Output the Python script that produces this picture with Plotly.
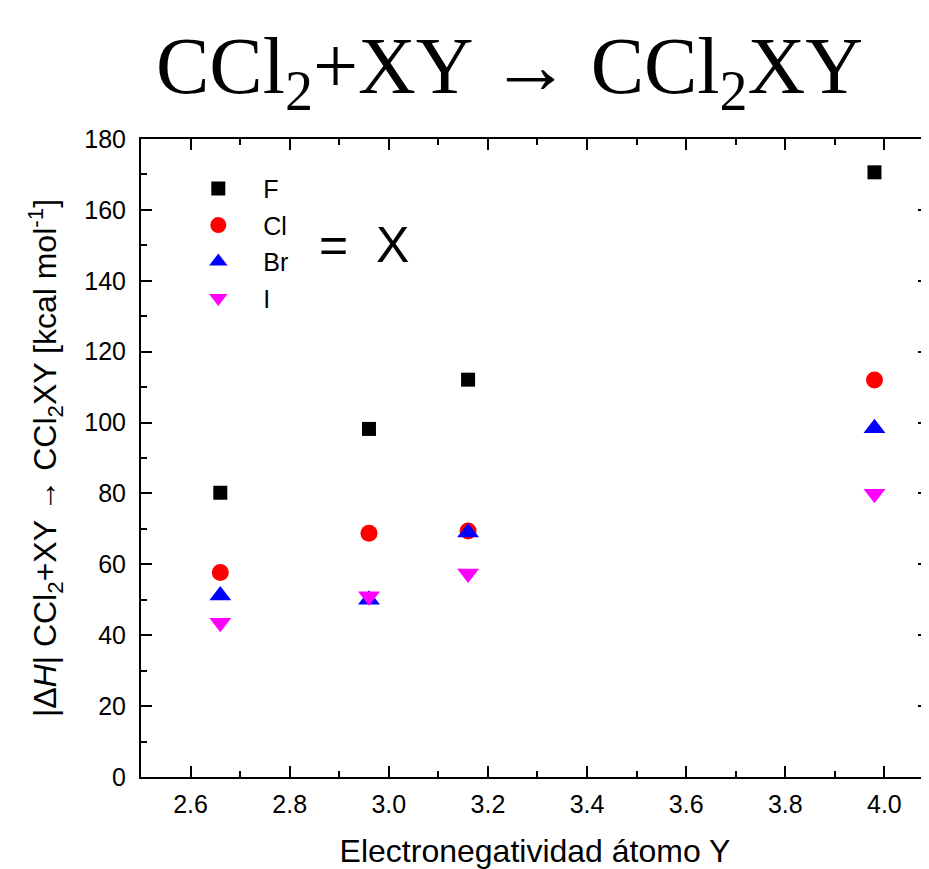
import plotly.graph_objects as go

x_en = [2.66, 2.96, 3.16, 3.98]
series_names = ["F", "Cl", "Br", "I"]
F_vals = [80.2, 98.2, 112.1, 170.6]
Cl_vals = [57.7, 68.8, 69.4, 112.0]
Br_vals = [51.2, 50.0, 69.0, 98.4]
I_vals = [43.5, 51.0, 57.4, 79.9]

styles = {
    "F": dict(symbol="square", color="black", size=14),
    "Cl": dict(symbol="circle", color="red", size=17),
    "Br": dict(symbol="triangle-up", color="blue", size=19),
    "I": dict(symbol="triangle-down", color="#ff00ff", size=19),
}
vals = {"F": F_vals, "Cl": Cl_vals, "Br": Br_vals, "I": I_vals}

fig = go.Figure()
for i, name in enumerate(series_names):
    st = styles[name]
    fig.add_trace(go.Scatter(
        x=x_en, y=vals[name], mode="markers", name=name,
        legendgroup=name,
        marker=dict(symbol=st["symbol"], color=st["color"], size=st["size"], line=dict(width=0)),
    ))

axis_common = dict(
    showline=True, linecolor="black", linewidth=2, mirror="ticks",
    ticks="inside", ticklen=11, tickwidth=1.5, tickcolor="black",
    showgrid=False, zeroline=False, automargin=False,
    tickfont=dict(family="Liberation Sans", size=25, color="black"),
)

fig.update_xaxes(
    range=[2.5, 4.09], tickmode="array",
    tickvals=[2.6, 2.8, 3.0, 3.2, 3.4, 3.6, 3.8, 4.0],
    ticktext=["2.6", "2.8", "3.0", "3.2", "3.4", "3.6", "3.8", "4.0"],
    ticklabelstandoff=4,
    minor=dict(ticks="inside", ticklen=6, tickwidth=1.5, tickcolor="black", dtick=0.1, tick0=2.5, showgrid=False),
    title=dict(text="Electronegatividad átomo Y", font=dict(family="Liberation Sans", size=32, color="black"), standoff=28),
    **axis_common,
)
fig.update_yaxes(
    range=[0, 180], dtick=20, tick0=0,
    ticklabelstandoff=8,
    minor=dict(ticks="inside", ticklen=6, tickwidth=1.5, tickcolor="black", dtick=10, showgrid=False),
    title=dict(text="|Δ<i>H</i>| CCl<sub>2</sub>+XY → CCl<sub>2</sub>XY [kcal mol<sup>-1</sup>]",
               font=dict(family="Liberation Sans", size=32, color="black"), standoff=18),
    **axis_common,
)

fig.add_annotation(
    text="CCl<sub>2</sub>+XY → CCl<sub>2</sub>XY", xref="paper", yref="paper",
    x=0.468, y=1.0, yshift=15, xanchor="center", yanchor="bottom", showarrow=False,
    font=dict(family="Liberation Serif", size=80, color="black"),
)
fig.add_annotation(
    text="= &nbsp;X", xref="paper", yref="paper",
    x=0.223, y=0.834, xanchor="left", yanchor="middle", showarrow=False,
    font=dict(family="Liberation Sans", size=50, color="black"),
)

fig.update_layout(
    width=921, height=861,
    margin=dict(l=133, r=0, t=131, b=92),
    paper_bgcolor="white", plot_bgcolor="white",
    showlegend=True,
    legend=dict(x=0.041, y=0.958, xanchor="left", yanchor="top",
                bgcolor="rgba(0,0,0,0)", tracegroupgap=1, itemwidth=80,
                font=dict(family="Liberation Sans", size=25, color="black")),
)

fig.write_html("out.html")
